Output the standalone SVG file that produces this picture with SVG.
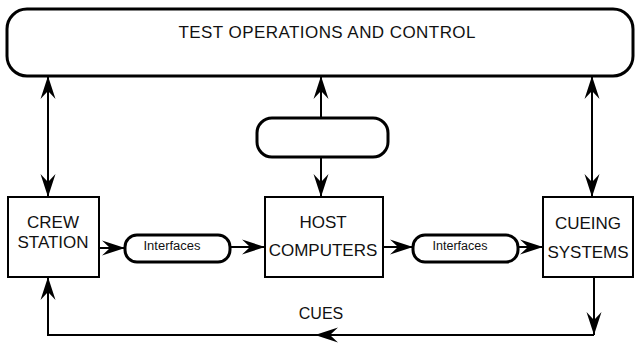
<svg xmlns="http://www.w3.org/2000/svg" width="637" height="350" viewBox="0 0 637 350">
<style>
.box{fill:#fff;stroke:#000;stroke-width:2}
.pill{fill:#fff;stroke:#000;stroke-width:3}
.lbl{font-family:"Liberation Sans",Arial,sans-serif;font-size:17px;fill:#111;text-anchor:middle}
.small{font-family:"Liberation Sans",Arial,sans-serif;font-size:12px;fill:#111;text-anchor:middle}
.c{fill:none;stroke:#000;stroke-width:2}
</style>
<defs>
<marker id="ah" markerUnits="userSpaceOnUse" markerWidth="26" markerHeight="18" viewBox="-24 -9 26 18" refX="0" refY="0" orient="auto-start-reverse">
<path d="M0,0 L-23,-7.5 L-15,0 L-23,7.5 Z" fill="#000"/>
</marker>
</defs>
<rect width="637" height="350" fill="#fff"/>
<g id="test-ops">
<rect class="pill" x="7" y="9" width="626" height="67" rx="20" ry="20"/>
<text class="lbl" x="327" y="38" textLength="297" lengthAdjust="spacing">TEST OPERATIONS AND CONTROL</text>
</g>
<g id="mid-box">
<rect class="pill" x="257" y="118" width="131" height="39" rx="15" ry="15"/>
</g>
<g id="crew">
<rect class="box" x="8" y="197" width="91" height="80"/>
<text class="lbl" x="53" y="228">CREW</text>
<text class="lbl" x="53" y="248">STATION</text>
</g>
<g id="host">
<rect class="box" x="265" y="197" width="118" height="80"/>
<text class="lbl" x="323" y="228">HOST</text>
<text class="lbl" x="323" y="256">COMPUTERS</text>
</g>
<g id="cueing">
<rect class="box" x="543" y="197" width="90" height="80"/>
<text class="lbl" x="588" y="229">CUEING</text>
<text class="lbl" x="588" y="258">SYSTEMS</text>
</g>
<g id="iface1">
<rect class="pill" x="125" y="235" width="105" height="27" rx="12" ry="12"/>
<text class="small" x="172" y="250" textLength="57" lengthAdjust="spacingAndGlyphs">Interfaces</text>
</g>
<g id="iface2">
<rect class="pill" x="413" y="235" width="105" height="27" rx="12" ry="12"/>
<text class="small" x="460" y="250" textLength="55" lengthAdjust="spacingAndGlyphs">Interfaces</text>
</g>
<g id="connectors">
<path class="c" d="M48,197 L48,76" marker-start="url(#ah)" marker-end="url(#ah)"/>
<path class="c" d="M592,197 L592,76" marker-start="url(#ah)" marker-end="url(#ah)"/>
<path class="c" d="M321,118 L321,76" marker-end="url(#ah)"/>
<path class="c" d="M321,157 L321,197" marker-end="url(#ah)"/>
<path class="c" d="M99,248 L125,248" marker-end="url(#ah)"/>
<path class="c" d="M230,247 L265,247" marker-end="url(#ah)"/>
<path class="c" d="M383,247 L413,247" marker-end="url(#ah)"/>
<path class="c" d="M518,247 L543,247" marker-end="url(#ah)"/>
<path class="c" d="M594,277 L594,335" marker-end="url(#ah)"/>
<path class="c" d="M594,335 L315,335" marker-end="url(#ah)"/>
<path class="c" d="M315,335 L48,335 L48,277" marker-end="url(#ah)"/>
<text class="lbl" x="321" y="319" style="font-size:16px">CUES</text>
</g>
</svg>
